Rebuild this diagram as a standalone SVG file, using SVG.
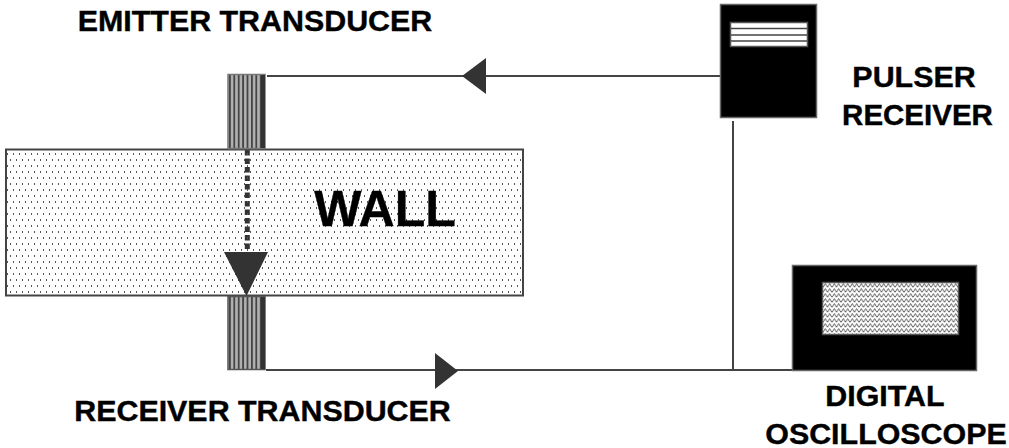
<svg xmlns="http://www.w3.org/2000/svg" width="1009" height="448" viewBox="0 0 1009 448">
<defs>
<style>
text{font-family:"Liberation Sans",Arial,sans-serif;font-weight:bold;fill:#000;stroke:#000;stroke-width:.4;text-anchor:middle}
.lbl{font-size:30.400px}
.wire{fill:none;stroke:#444;stroke-width:2}
.head{fill:#333;stroke:none}
.body{fill:#000;stroke:#666;stroke-width:1.500}
</style>
<pattern id="dots" width="12" height="12" patternUnits="userSpaceOnUse" x="6" y="150">
<rect x="1" y="3" width="1" height="2" fill="#555"/><rect x="7" y="3" width="1" height="2" fill="#555"/>
<rect x="4" y="9" width="1" height="2" fill="#555"/><rect x="10" y="9" width="1" height="2" fill="#555"/>
</pattern>
<pattern id="stripes" width="4.400" height="10" patternUnits="userSpaceOnUse" x="229" y="0">
<rect width="4.400" height="10" fill="#444"/><rect x="1.800" width="2.600" height="10" fill="#b0b0b0"/>
</pattern>
<pattern id="zig" width="4.500" height="5" patternUnits="userSpaceOnUse" x="823" y="283">
<rect width="4.500" height="5" fill="#fff"/><path d="M0 4.500L2.250 .5L4.500 4.500" fill="none" stroke="#333" stroke-width=".8"/>
</pattern>
</defs>
<g id="connectors">
<path class="wire" d="M267 76H721"/>
<path class="wire" d="M266 370H792"/>
<path class="wire" d="M733 121V370"/>
<path d="M247.300 150V252" fill="none" stroke="#333" stroke-width="5" stroke-dasharray="5.500 3"/>
<polygon class="head" points="462,76 486,58 486,94"/>
<polygon class="head" points="458,371 435,353 435,389"/>
</g>
<g id="wall">
<rect x="6" y="149.500" width="517" height="146" fill="url(#dots)" stroke="#444" stroke-width="2"/>
<text x="385" y="226" font-size="50">WALL</text>
</g>
<polygon class="head" points="224,252 268,252 246.500,296"/>
<g id="emitter-transducer">
<rect x="228" y="74.500" width="37" height="74" fill="url(#stripes)" stroke="#777" stroke-width="1.500"/>
<rect x="261" y="75" width="4" height="73" fill="#333"/>
<text class="lbl" x="255" y="31">EMITTER TRANSDUCER</text>
</g>
<g id="receiver-transducer">
<rect x="228" y="296.500" width="37" height="73" fill="url(#stripes)" stroke="#555" stroke-width="1.500"/>
<rect x="261" y="297" width="4" height="72" fill="#333"/>
<text class="lbl" x="262.500" y="421">RECEIVER TRANSDUCER</text>
</g>
<g id="pulser-receiver">
<rect class="body" x="720.500" y="4.500" width="96" height="113"/>
<rect x="730.500" y="22.500" width="77" height="24" fill="#fff" stroke="#555" stroke-width="1.500"/>
<path d="M731 28.500H807M731 35H807M731 41H807" stroke="#444" stroke-width="1.500"/>
<text class="lbl" x="914" y="87">PULSER</text>
<text x="917.500" y="125" font-size="29.500">RECEIVER</text>
</g>
<g id="digital-oscilloscope">
<rect class="body" x="792.500" y="265.500" width="184" height="105"/>
<rect x="822.500" y="282.500" width="136" height="52" fill="url(#zig)" stroke="#555" stroke-width="1.500"/>
<text class="lbl" x="885" y="406">DIGITAL</text>
<text class="lbl" x="886" y="444">OSCILLOSCOPE</text>
</g>
</svg>
